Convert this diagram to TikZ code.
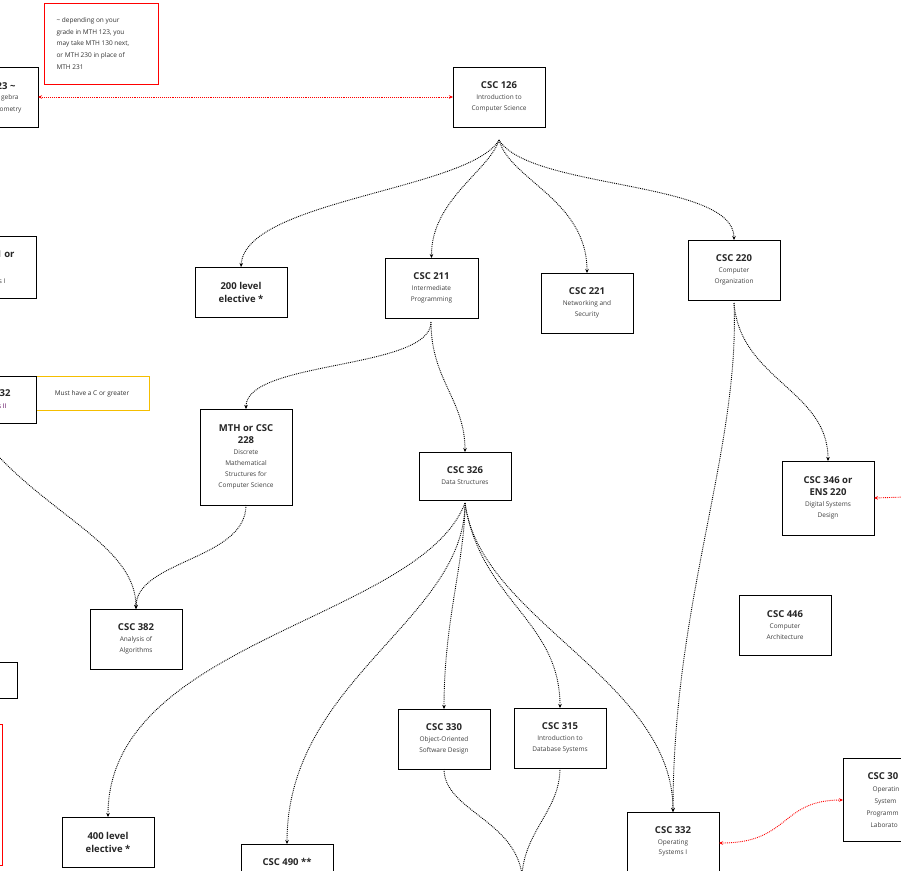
\documentclass[tikz,border=0pt]{standalone}
\usepackage{fontspec}
\setmainfont{Open Sans}
\usetikzlibrary{arrows.meta}
\newcommand\cttl{\bfseries\fontsize{9.5}{12}\selectfont\color{black!85}}
\newcommand\csub{\normalfont\fontsize{6.5}{11.5}\selectfont\color{black!75}}
\begin{document}
\begin{tikzpicture}[x=1pt,y=-1pt,
  box/.style={draw,line width=0.8pt,fill=white},
  ttl/.style={font=\bfseries\fontsize{9.5}{12}\selectfont,text=black!85},
  sub/.style={font=\fontsize{6.5}{11.5}\selectfont,text=black!75,align=center},
  dep/.style={densely dotted,line width=0.9pt,-{Stealth[length=4pt,width=3.5pt]}},
  coreq/.style={densely dotted,line width=0.9pt,red,{Stealth[length=4pt,width=3.5pt]}-{Stealth[length=4pt,width=3.5pt]}}]
\useasboundingbox (0,0) rectangle (901,870);
\clip (0,0) rectangle (901,870);
\fill[white] (0,0) rectangle (901,870);
\newcommand\crs[6]{% name, x1,y1,x2,y2, content
  \draw[box] (#2,#3) rectangle (#4,#5);
  \node[align=center] (#1) at ({(#2+#4)/2},{(#3+#5)/2}) {#6};
  \coordinate (#1-n) at ({(#2+#4)/2},#3);
  \coordinate (#1-s) at ({(#2+#4)/2},#5);
  \coordinate (#1-w) at (#2,{(#3+#5)/2});
  \coordinate (#1-e) at (#4,{(#3+#5)/2});}
% notes
\draw[red,line width=0.8pt] (44,3) rectangle (158,84);
\node[anchor=north west,font=\fontsize{6.5}{11.7}\selectfont,align=left,text=black!80] (note1) at (53,14)
 {\textasciitilde{} depending on your\\grade in MTH 123, you\\may take MTH 130 next,\\or MTH 230 in place of\\MTH 231};
\draw[draw={rgb,255:red,245;green,190;blue,0},line width=0.8pt] (35,376) rectangle (149,410);
\node[font=\fontsize{6.5}{8}\selectfont,text=black!80] (note2) at (92,394) {Must have a C or greater};
% clipped left boxes
\draw[box] (-10,67) rectangle (38,127);
\node[anchor=east,ttl] (m123) at (19,86) {23 \textasciitilde};
\node[anchor=east,font=\fontsize{6.5}{8}\selectfont,text=black!75] at (22,98) {gebra};
\node[anchor=east,font=\fontsize{6.5}{8}\selectfont,text=black!75] at (25,110) {ometry};
\coordinate (m123-e) at (38,97);
\draw[box] (-10,236) rectangle (36,298);
\node[anchor=east,ttl] (m131) at (18,254) {1 or};
\node[anchor=east,font=\fontsize{6.5}{8}\selectfont,text=black!75] at (9,281) {s I};
\draw[box] (-10,376) rectangle (36,423);
\node[anchor=east,ttl] (m132) at (14,393) {32};
\node[anchor=east,font=\fontsize{6.5}{8}\selectfont,text=violet!70!black] at (10,406) {s II};
\coordinate (m132-s) at (0,458);
\draw[box] (-10,662) rectangle (17,698);
\node (lb4) at (5,680) {};
\draw[red,line width=0.8pt] (-10,724) rectangle (2,865);
% courses
\crs{c126}{453}{67}{545}{127}{{\cttl CSC 126}\\[-1pt]{\csub Introduction to}\\[-1pt]{\csub Computer Science}}
\crs{e200}{195}{267}{287}{317}{{\cttl 200 level}\\[1pt]{\cttl elective *}}
\crs{c211}{385}{258}{478}{318}{{\cttl CSC 211}\\[-1pt]{\csub Intermediate}\\[-1pt]{\csub Programming}}
\crs{c221}{541}{273}{633}{333}{{\cttl CSC 221}\\[-1pt]{\csub Networking and}\\[-1pt]{\csub Security}}
\crs{c220}{688}{240}{780}{300}{{\cttl CSC 220}\\[-1pt]{\csub Computer}\\[-1pt]{\csub Organization}}
\crs{c228}{200}{409}{292}{505}{{\cttl MTH or CSC}\\[0pt]{\cttl 228}\\[-1pt]{\csub Discrete}\\[-1pt]{\csub Mathematical}\\[-1pt]{\csub Structures for}\\[-1pt]{\csub Computer Science}}
\crs{c326}{419}{452}{511}{500}{{\cttl CSC 326}\\[-1pt]{\csub Data Structures}}
\crs{c346}{782}{461}{874}{535}{{\cttl CSC 346 or}\\[0pt]{\cttl ENS 220}\\[-1pt]{\csub Digital Systems}\\[-1pt]{\csub Design}}
\crs{c382}{90}{609}{182}{669}{{\cttl CSC 382}\\[-1pt]{\csub Analysis of}\\[-1pt]{\csub Algorithms}}
\crs{c446}{739}{595}{831}{655}{{\cttl CSC 446}\\[-1pt]{\csub Computer}\\[-1pt]{\csub Architecture}}
\crs{c330}{398}{709}{490}{769}{{\cttl CSC 330}\\[-1pt]{\csub Object-Oriented}\\[-1pt]{\csub Software Design}}
\crs{c315}{514}{708}{606}{768}{{\cttl CSC 315}\\[-1pt]{\csub Introduction to}\\[-1pt]{\csub Database Systems}}
\crs{e400}{62}{817}{154}{867}{{\cttl 400 level}\\[1pt]{\cttl elective *}}
\draw[box] (241,844) rectangle (333,890);
\node[ttl] (c490) at (287,862) {CSC 490 **};
\coordinate (c490-n) at (287,844);
\draw[box] (627,812) rectangle (719,890);
\node[ttl] (c332) at (673,830) {CSC 332};
\node[sub,anchor=north] (c332s) at (673,836) {Operating\\[-1pt]Systems I};
\coordinate (c332-n) at (673,812);
\coordinate (c332-e) at (719,843);
\draw[box] (843,758) rectangle (920,841);
\node[ttl,anchor=west] (c30x) at (864,776) {CSC 30};
\node[sub,anchor=north west,align=left] at (869,783) {Operatin};
\node[sub,anchor=north west,align=left] at (871,795) {System};
\node[sub,anchor=north west,align=left] at (863,807) {Programm};
\node[sub,anchor=north west,align=left] at (867,819) {Laborato};
\coordinate (c30x-w) at (843,800);
\coordinate (r346) at (905,497);
\coordinate (bot) at (522,875);
% connectors
\coordinate (o126) at (499,140);
\coordinate (o211) at (431,322);
\coordinate (o220) at (734,303);
\coordinate (o326) at (465,503);
\draw[dep] (o126) .. controls (470,190) and (245,200) .. (e200-n);
\draw[dep] (o126) .. controls (490,170) and (431,200) .. (c211-n);
\draw[dep] (o126) .. controls (510,180) and (587,200) .. (c221-n);
\draw[dep] (o126) .. controls (530,190) and (734,180) .. (c220-n);
\draw[dep] (o211) .. controls (431,370) and (246,360) .. (c228-n);
\draw[dep] (o211) .. controls (431,380) and (465,400) .. (c326-n);
\draw[dep] (o220) .. controls (740,380) and (828,390) .. (c346-n);
\draw[dep] (o220) .. controls (740,450) and (673,600) .. (c332-n);
\draw[dep] (m132-s) .. controls (60,520) and (136,550) .. (c382-n);
\draw[dep] (c228-s) .. controls (246,560) and (136,560) .. (c382-n);
\draw[dep] (o326) .. controls (420,620) and (108,640) .. (e400-n);
\draw[dep] (o326) .. controls (465,620) and (287,680) .. (c490-n);
\draw[dep] (o326) .. controls (465,560) and (444,620) .. (c330-n);
\draw[dep] (o326) .. controls (480,600) and (560,620) .. (c315-n);
\draw[dep] (o326) .. controls (480,620) and (673,680) .. (c332-n);
\draw[densely dotted,line width=0.9pt] (c330-s) .. controls (444,810) and (515,820) .. (bot);
\draw[densely dotted,line width=0.9pt] (c315-s) .. controls (560,810) and (525,830) .. (bot);
\draw[coreq] (m123-e) -- (c126-w);
\draw[densely dotted,line width=0.9pt,red,-{Stealth[length=4pt,width=3.5pt]}] (r346) -- (c346-e);
\draw[coreq] (c332-e) .. controls (790,843) and (780,800) .. (c30x-w);
\end{tikzpicture}
\end{document}
